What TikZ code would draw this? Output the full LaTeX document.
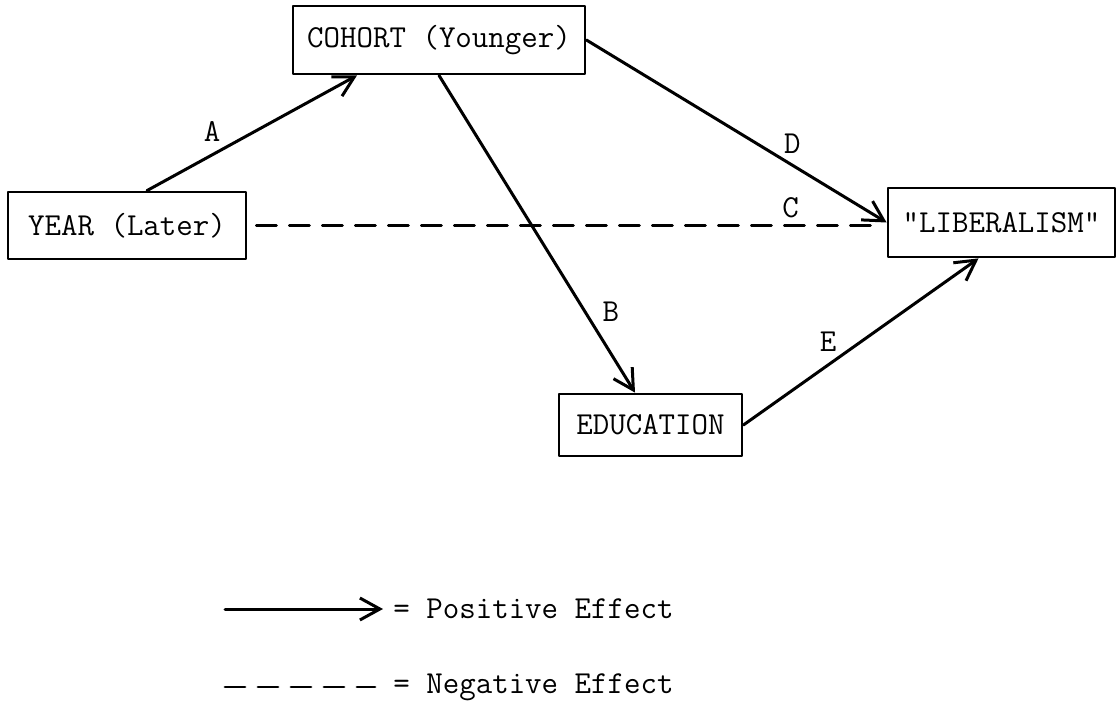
\documentclass[tikz,border=0pt]{standalone}
\usepackage{fontspec}
\usetikzlibrary{arrows.meta}

\begin{document}
\begin{tikzpicture}[x=0.5pt,y=-0.5pt,line join=round,line cap=round,
    font=\fontsize{16}{19}\selectfont\ttfamily,
    box/.style={draw,line width=1.4pt,inner sep=0pt},
    lbl/.style={inner sep=0pt},
    poseff/.style={line width=1.5pt,-{Straight Barb[length=10pt,width=11pt,line width=1.5pt]}},
    negeff/.style={line width=1.4pt,dash pattern=on 10pt off 6.5pt}]
  \useasboundingbox (0,0) rectangle (1118,706);

  % boxes
  \node[box,minimum width=119pt,minimum height=33.5pt] (year) at (127,225.5) {YEAR (Later)};
  \node[box,minimum width=146pt,minimum height=34pt] (cohort) at (439,40) {COHORT (Younger)};
  \node[box,minimum width=91.5pt,minimum height=31pt] (edu) at (650.5,425) {EDUCATION};
  \node[box,minimum width=113.5pt,minimum height=34.5pt] (lib) at (1001.5,222.5) {"LIBERALISM"};

  % effects
  \draw[poseff] ([xshift=10pt]year.north) -- ([xshift=-41pt]cohort.south)
      node[lbl,pos=0.31,above=6pt] (la) {A};
  \draw[poseff] (cohort.south) -- ([xshift=-7.75pt]edu.north)
      node[lbl,pos=0.745,right=8pt] (lb) {B};
  \draw[negeff,shorten <=4.5pt,shorten >=3pt] (year.east) -- (year.east -| lib.west)
      node[lbl,pos=0.85,above=3pt] (lc) {C};
  \draw[poseff] (cohort.east) -- (lib.west)
      node[lbl,pos=0.686,above=5pt] (ld) {D};
  \draw[poseff] (edu.east) -- ([xshift=-11.5pt]lib.south)
      node[lbl,pos=0.36,above=6pt] (le) {E};

  % legend
  \coordinate (p0) at (225,609);
  \node[lbl,anchor=west] (ptext) at (393,609) {= Positive Effect};
  \draw[poseff,shorten >=5pt] (p0) -- (ptext);
  \coordinate (n0) at (225,687);
  \node[lbl,anchor=west] (ntext) at (393,687) {= Negative Effect};
  \draw[negeff,shorten >=9pt] (n0) -- (ntext);
\end{tikzpicture}
\end{document}
